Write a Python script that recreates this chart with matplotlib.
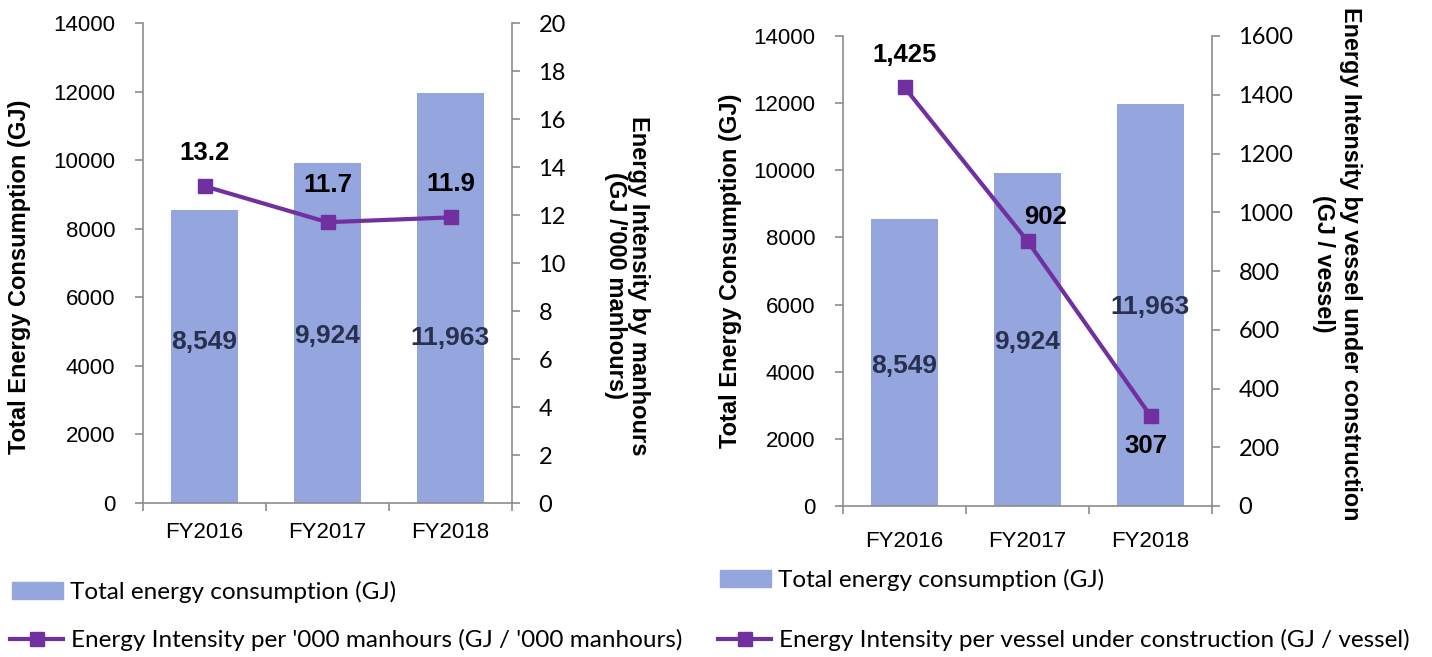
import matplotlib
matplotlib.use('Agg')
import matplotlib.pyplot as plt
from matplotlib.patches import Patch
from matplotlib.lines import Line2D

# ---------------- data ----------------
categories = ['FY2016', 'FY2017', 'FY2018']
energy_gj = [8549, 9924, 11963]
intensity_manhours = [13.2, 11.7, 11.9]
intensity_vessel = [1425, 902, 307]
energy_labels = ['8,549', '9,924', '11,963']
manhour_labels = ['13.2', '11.7', '11.9']
vessel_labels = ['1,425', '902', '307']

# ---------------- style ----------------
BAR = '#95A5DD'
LINE = '#7030A0'
SPINE = '#8C8C8C'
LABEL_DARK = '#28304F'
plt.rcParams['font.family'] = ['Liberation Sans', 'DejaVu Sans']

W, H = 1432, 657
fig = plt.figure(figsize=(W / 100, H / 100), dpi=100)


def px_axes(x0, x1, ytop, ybot):
    return fig.add_axes([x0 / W, 1 - ybot / H, (x1 - x0) / W, (ybot - ytop) / H])


def panel(ax, line_vals, ymax2, ystep2, bar_label_y, line_labels, offsets, xtick_pad):
    x = list(range(len(categories)))
    ax.bar(x, energy_gj, width=0.55, color=BAR, zorder=2)
    ax.set_xlim(-0.5, 2.5)
    ax.set_ylim(0, 14000)
    ax.set_yticks(range(0, 14001, 2000))
    ax.set_xticks(x)
    ax.set_xticklabels(categories)
    ax.set_xticks([-0.5, 0.5, 1.5, 2.5], minor=True)
    ax.tick_params(axis='x', which='major', length=0, pad=xtick_pad, labelsize=16)
    ax.tick_params(axis='x', which='minor', length=6, width=1.2, color=SPINE, direction='out')
    ax.tick_params(axis='y', length=6, width=1.2, color=SPINE, direction='out', pad=14, labelsize=16)
    for s in ['top', 'right']:
        ax.spines[s].set_visible(False)
    for s in ['left', 'bottom']:
        ax.spines[s].set_color(SPINE)
        ax.spines[s].set_linewidth(1.2)

    for xi, yl, lbl in zip(x, bar_label_y, energy_labels):
        ax.text(xi, yl, lbl, ha='center', va='center', fontsize=19, fontweight='bold',
                color=LABEL_DARK, zorder=3)

    ax2 = ax.twinx()
    ax2.plot(x, line_vals, color=LINE, lw=3, marker='s', ms=10, zorder=4)
    ax2.set_ylim(0, ymax2)
    ax2.set_yticks([v * ystep2 for v in range(int(ymax2 / ystep2) + 1)])
    ax2.tick_params(axis='y', length=6, width=1.2, color=SPINE, direction='out', pad=13, labelsize=17)
    for t in ax2.get_yticklabels():
        t.set_fontfamily('Lato')
    for s in ['top', 'left', 'bottom']:
        ax2.spines[s].set_visible(False)
    ax2.spines['right'].set_color(SPINE)
    ax2.spines['right'].set_linewidth(1.2)
    for xi, v, lbl, off in zip(x, line_vals, line_labels, offsets):
        ax2.annotate(lbl, (xi, v), xytext=off, textcoords='offset points', ha='center', va='center',
                     fontsize=18.5, fontweight='bold', color='black', zorder=5)
    return ax2


# left panel
axL = px_axes(143, 512, 23, 503)
panel(axL, intensity_manhours, 20, 2, [4700, 4870, 4810], manhour_labels,
      [(0, 24), (0, 27), (0, 24)], 14)

# right panel
axR = px_axes(843, 1212, 36, 506)
panel(axR, intensity_vessel, 1600, 200, [4170, 4885, 5930], vessel_labels,
      [(0, 23), (13, 17), (-3, -22)], 18)

# axis titles
title_kw = dict(fontsize=17, fontweight='bold', ha='center', va='center', multialignment='center')
fig.text(20 / W, 1 - 277 / H, 'Total Energy Consumption (GJ)', rotation=90, **title_kw)
fig.text(627 / W, 1 - 286 / H, "Energy Intensity by manhours\n(GJ /'000 manhours)", rotation=-90,
         linespacing=1.05, **title_kw)
fig.text(730 / W, 1 - 271 / H, 'Total Energy Consumption (GJ)', rotation=90, **title_kw)
fig.text(1337 / W, 1 - 264 / H, 'Energy Intensity by vessel under construction\n(GJ / vessel)',
         rotation=-90, linespacing=1.25, **{**title_kw, 'fontsize': 16.8})

# legends
leg_kw = dict(loc='center left', frameon=False, borderpad=0, borderaxespad=0,
              handletextpad=0.3, prop={'family': 'Lato', 'size': 17.5})
bar_handle = Patch(color=BAR)
line_handle = Line2D([], [], color=LINE, lw=3, marker='s', ms=10)
fig.legend([bar_handle], ['Total energy consumption (GJ)'], bbox_to_anchor=(12 / W, 1 - 592 / H),
           handlelength=2.1, handleheight=0.65, **leg_kw)
fig.legend([line_handle], ["Energy Intensity per '000 manhours (GJ / '000 manhours)"],
           bbox_to_anchor=(10 / W, 1 - 640 / H), handlelength=2.2, **leg_kw)
fig.legend([bar_handle], ['Total energy consumption (GJ)'], bbox_to_anchor=(720 / W, 1 - 580 / H),
           handlelength=2.1, handleheight=0.65, **leg_kw)
fig.legend([line_handle], ['Energy Intensity per vessel under construction (GJ / vessel)'],
           bbox_to_anchor=(718 / W, 1 - 640 / H), handlelength=2.2, **leg_kw)

fig.savefig('out.png', dpi=100)
